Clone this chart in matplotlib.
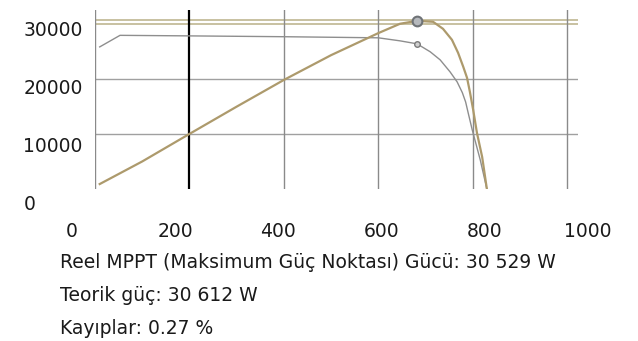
import matplotlib.pyplot as plt

# real (MPPT) curve, tan
v_real = [10, 100, 200, 300, 400, 500, 600, 646, 682, 716, 737, 756, 769, 780, 788, 794, 801, 809, 820, 830]
p_real = [900, 5000, 10000, 14950, 19800, 24300, 28300, 30000, 30529, 30360, 29090, 27090, 24730,
          22180, 20180, 17640, 14360, 10180, 5820, 0]

# second curve, gray
v_gray = [10, 53, 200, 400, 600, 646, 682, 710, 731, 752, 767, 778, 785, 791, 799, 816, 830]
p_gray = [25800, 27900, 27800, 27650, 27450, 26900, 26360, 24910, 23450, 21270, 19450, 17500, 15800,
          13600, 10730, 5270, 0]

mpp_v = 682
mpp_p = 30529
gray_pt = (682, 26360)
p_theo = 30612

xticks = [0, 200, 400, 600, 800, 1000]
yticks = [0, 10000, 20000, 30000]

lines = [
    "Reel MPPT (Maksimum Güç Noktası) Gücü: 30 529 W",
    "Teorik güç: 30 612 W",
    "Kayıplar: 0.27 %",
]

W, H = 638, 341
fig = plt.figure(figsize=(W / 100, H / 100), dpi=100)
plt.rcParams['font.family'] = 'DejaVu Sans'

# plotting area: x 95..578 px, y 10..189 px
ax = fig.add_axes([95 / W, (H - 189) / H, (578 - 95) / W, (189 - 10) / H])
ax.set_xlim(0, 1023)
ax.set_ylim(0, 32500)
for s in ax.spines.values():
    s.set_visible(False)
ax.set_xticks([])
ax.set_yticks([])

for y in [10000, 20000]:
    ax.axhline(y, color='#a0a0a0', lw=1, zorder=1)
ax.axhline(30000, color='#c4bc9a', lw=1.3, zorder=1)
ax.axhline(p_theo, color='#c4bc9a', lw=1.3, zorder=1)
for x in xticks:
    if x == 200:
        ax.axvline(x, color='black', lw=1.6, zorder=1)
    else:
        ax.axvline(x, color='#8a8a8a', lw=1, zorder=1)

ax.plot(v_gray, p_gray, color='#8e8e8e', lw=1, zorder=2)
ax.plot(v_real, p_real, color='#ad9a6c', lw=1.6, zorder=3)
ax.plot([mpp_v], [mpp_p], 'o', ms=7, mfc='#b6b9bd', mec='#6f7377', mew=1.5, zorder=4)
ax.plot([gray_pt[0]], [gray_pt[1]], 'o', ms=4, mfc='#d0d0d0', mec='#7a7a7a', mew=1, zorder=4)

# tick labels sit on their own (offset) scale
lab = fig.add_axes([72 / W, (H - 215) / H, (588 - 72) / W, (215 - 29) / H])
lab.patch.set_visible(False)
for s in lab.spines.values():
    s.set_visible(False)
lab.set_xlim(0, 1000)
lab.set_ylim(-30000 * 13 / 173, 30000)
lab.set_xticks(xticks)
lab.set_xticklabels([str(x) for x in xticks])
lab.set_yticks(yticks)
lab.set_yticklabels([str(y) for y in yticks], ha='left')
lab.tick_params(axis='x', length=0, pad=5, labelsize=13.5, colors='#1a1a1a')
lab.tick_params(axis='y', length=0, pad=35, labelsize=13.5, colors='#1a1a1a')

for i, t in enumerate(lines):
    fig.text(60 / W, 1 - (263 + 32.5 * i) / H, t, fontsize=13.5, color='#1a1a1a', va='center', ha='left')

fig.savefig('out.png', dpi=100)
